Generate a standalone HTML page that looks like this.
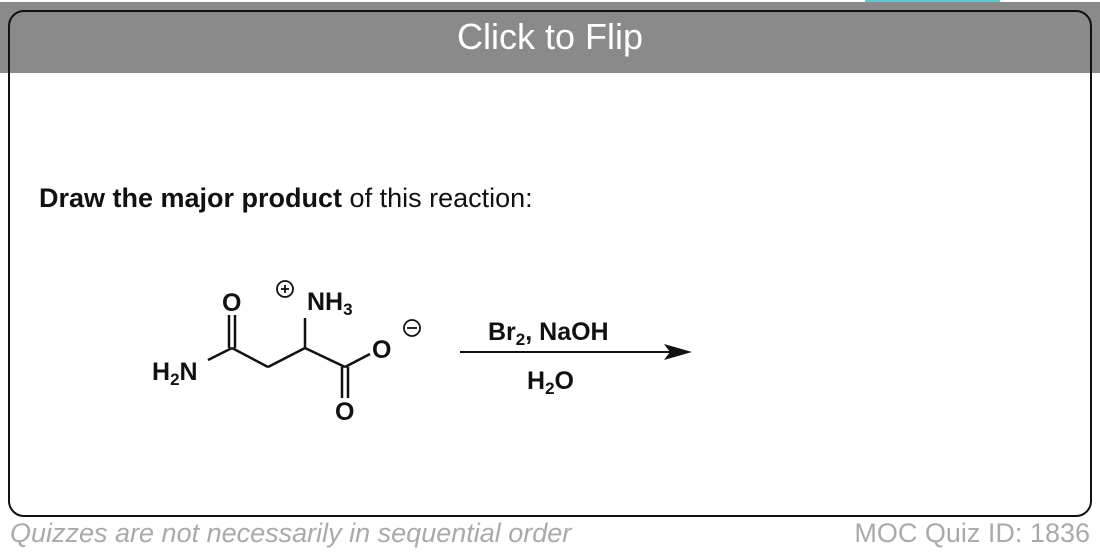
<!DOCTYPE html>
<html><head><style>
body{margin:0;width:1100px;height:557px;background:#fff;position:relative;overflow:hidden;font-family:"Liberation Sans",sans-serif}
.band{position:absolute;left:0;top:2px;width:1100px;height:71px;background:#8a8a8a}
.tab{position:absolute;left:865px;top:0;width:135px;height:3px;background:#5cc8d0}
.card{position:absolute;left:8px;top:10px;width:1080px;height:503px;border:2.5px solid #111;border-radius:16px;box-sizing:content-box}
.title{position:absolute;left:0;width:1100px;top:16px;text-align:center;color:#fff;font-size:36px}
.q{position:absolute;left:39px;top:183px;font-size:27px;color:#111;white-space:nowrap}
.foot{position:absolute;top:518px;font-size:27px;color:#aaa;white-space:nowrap}
</style></head><body>
<div class="tab"></div>
<div class="band"></div>
<div class="card"></div>
<div class="title">Click to Flip</div>
<div class="q"><b>Draw the major product</b> of this reaction:</div>
<div class="foot" style="left:10px;font-style:italic">Quizzes are not necessarily in sequential order</div>
<div class="foot" style="right:10px">MOC Quiz ID: 1836</div>
<svg style="position:absolute;left:0;top:0" width="1100" height="557">
<g stroke="#111" stroke-width="2.5" fill="none">
<line x1="208" y1="360" x2="232" y2="348"/>
<line x1="232" y1="348" x2="268" y2="367"/>
<line x1="268" y1="367" x2="305" y2="348"/>
<line x1="305" y1="348" x2="345" y2="367"/>
<line x1="345" y1="367" x2="370" y2="354"/>
<line x1="305" y1="348" x2="305" y2="318"/>
<line x1="229" y1="348" x2="229" y2="315"/><line x1="235" y1="348" x2="235" y2="315"/>
<line x1="342" y1="367" x2="342" y2="398"/><line x1="348" y1="367" x2="348" y2="398"/>
<circle cx="285" cy="289" r="8" stroke-width="1.8"/>
<circle cx="412" cy="328" r="8" stroke-width="1.8"/>
<line x1="460" y1="352" x2="670" y2="352" stroke-width="2"/>
<line x1="281" y1="289" x2="289" y2="289" stroke-width="1.8"/>
<line x1="285" y1="285" x2="285" y2="293" stroke-width="1.8"/>
<line x1="407" y1="328" x2="417" y2="328" stroke-width="1.8"/>
</g>
<polygon points="692,352 664,344 670,352 664,360" fill="#111"/>
<g fill="#111" font-weight="bold" font-size="25" font-family="Liberation Sans,sans-serif">
<text x="152" y="380">H<tspan font-size="17" dy="5">2</tspan><tspan dy="-5">N</tspan></text>
<text x="222" y="311">O</text>
<text x="307" y="310">NH<tspan font-size="17" dy="5">3</tspan></text>
<text x="372" y="358">O</text>
<text x="335" y="420">O</text>
<text x="488" y="340">Br<tspan font-size="17" dy="5">2</tspan><tspan dy="-5">, NaOH</tspan></text>
<text x="527" y="389">H<tspan font-size="17" dy="5">2</tspan><tspan dy="-5">O</tspan></text>
</g>
</svg>
</body></html>
